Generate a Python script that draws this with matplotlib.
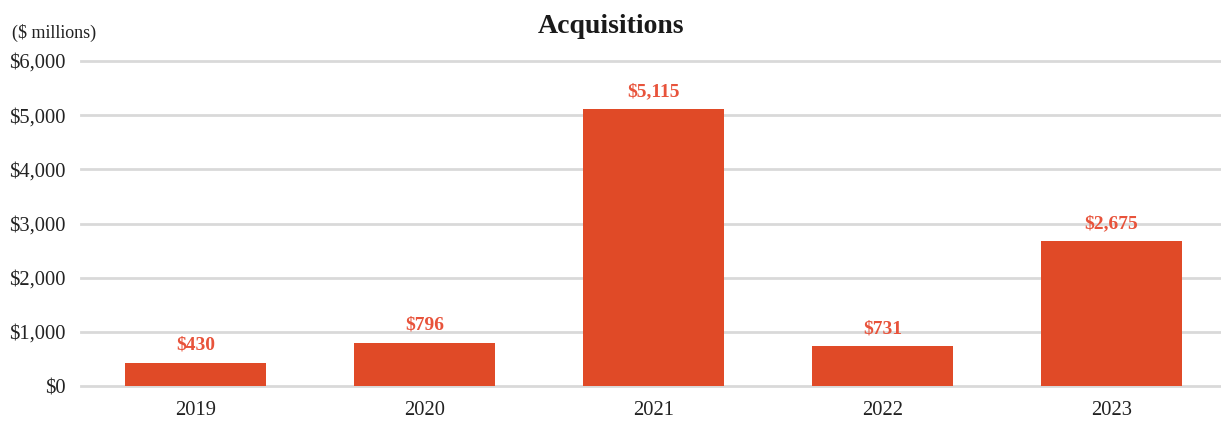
import matplotlib.pyplot as plt

# data
years = ['2019', '2020', '2021', '2022', '2023']
acquisitions = [430, 796, 5115, 731, 2675]
y_ticks = [0, 1000, 2000, 3000, 4000, 5000, 6000]

bar_color = '#E04A27'
label_color = '#E8533B'

plt.rcParams['font.family'] = ['Liberation Serif', 'DejaVu Serif']

fig = plt.figure(figsize=(12.21, 4.24), dpi=100)
ax = fig.add_axes([0.0663, 0.0896, 0.9378, 0.7665])

x = range(len(years))
ax.bar(x, acquisitions, width=0.616, color=bar_color, zorder=3)

# value labels above bars
for i, v in enumerate(acquisitions):
    ax.text(i, v + 170, '${:,}'.format(v), ha='center', va='bottom',
            fontsize=14, fontweight='bold', color=label_color)

ax.set_xlim(-0.5, len(years) - 0.5)
ax.set_ylim(0, 6000)
ax.set_yticks(y_ticks)
ax.set_yticklabels(['${:,}'.format(t) for t in y_ticks])
ax.set_xticks(list(x))
ax.set_xticklabels(years)
ax.tick_params(axis='both', length=0, labelsize=14.8, colors='#222222')
ax.tick_params(axis='y', pad=11)
ax.tick_params(axis='x', pad=11)

ax.grid(axis='y', color='#d9d9d9', linewidth=2, zorder=0)
for gl in ax.get_ygridlines():
    gl.set_clip_on(False)
for s in ax.spines.values():
    s.set_visible(False)

fig.text(0.5, 0.938, 'Acquisitions', ha='center', va='center',
         fontsize=20, fontweight='bold', color='#1a1a1a')
fig.text(0.01, 0.922, '($ millions)', ha='left', va='center',
         fontsize=13, color='#222222')

plt.savefig('out.png', dpi=100)
